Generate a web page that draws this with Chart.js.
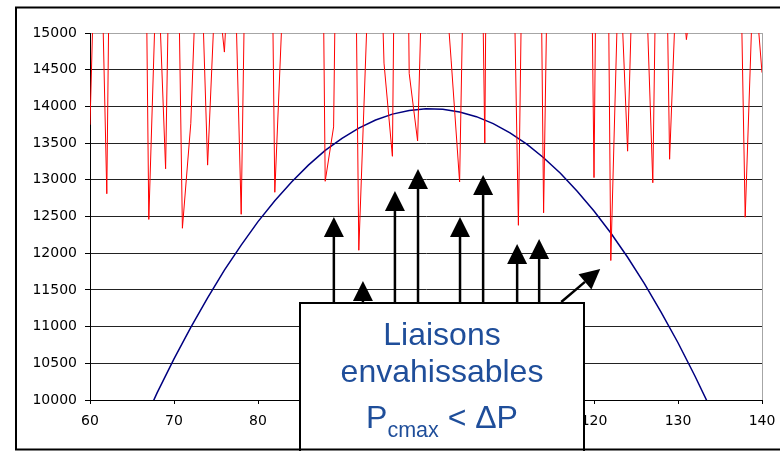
<!DOCTYPE html>
<html>
<head>
<meta charset="utf-8">
<script src="https://cdn.jsdelivr.net/npm/chart.js@4/dist/chart.umd.min.js"></script>
<style>
html,body{margin:0;padding:0;background:#fff;overflow:hidden}
canvas{display:block}
</style>
</head>
<body>
<canvas id="c" width="780" height="451"></canvas>
<script>
// ---- data ----
const redX = [60,61,62,63,64,65,66,67,68,69,70,71,72,73,74,75,76,77,78,79,80,81,82,83,84,85,86,87,88,89,90,91,92,93,94,95,96,97,98,99,100,101,102,103,104,105,106,107,108,109,110,111,112,113,114,115,116,117,118,119,120,121,122,123,124,125,126,127,128,129,130,131,132,133,134,135,136,137,138,139,140];
const redY = [13750,18000,12810,23500,20000,21500,23500,12460,16200,13150,20000,12340,13770,16900,13200,15850,14740,17000,12530,20000,19000,23000,12830,15600,19000,22000,20500,24800,12980,13720,22900,23000,12040,15250,18700,14590,13320,25000,14450,13530,17700,20000,16200,14620,12970,19300,21800,13500,28500,22000,18900,12380,20800,23700,12550,20000,21000,19500,22000,23400,13030,25000,11900,16200,13390,17500,16400,12960,21000,13280,16300,14910,15800,19000,21000,18500,20000,18900,12490,15900,14460];

const blueX = [66,68,70,72,74,76,78,80,82,84,86,88,90,92,94,96,98,100,102,104,106,108,110,112,114,116,118,120,122,124,126,128,130,132,134,136];
const blueY = [9600,10100,10560,10990,11390,11770,12110,12430,12715,12970,13200,13400,13565,13705,13815,13895,13945,13968,13962,13925,13860,13765,13640,13485,13300,13090,12845,12575,12275,11945,11585,11195,10780,10330,9855,9350];

const xTicks = [60,70,80,90,100,110,120,130,140];
const yTicks = [10000,10500,11000,11500,12000,12500,13000,13500,14000,14500,15000];

// annotation arrows (data coordinates)
const arrowX    = [89.03, 92.49, 96.30, 99.05, 104.05, 106.80, 110.85, 113.47];
const arrowTipY = [12493, 11621, 12847, 13147, 12493, 13065, 12125, 12193];
const arrowBaseY = 11330;
const diagArrowFrom = [116.10, 11335];
const diagArrowTo   = [120.74, 11785];

// annotation box (data coordinates for left/right/top)
const boxXRange = [84.86, 118.84];
const boxTopY = 11321;
const boxText1 = 'Liaisons';
const boxText2 = 'envahissables';
const boxText3 = ['P', 'cmax', ' < \u0394P'];

const tickFont = {family: 'DejaVu Sans', size: 14};

function drawArrow(ctx, x0, y0, x1, y1) {
  const ang = Math.atan2(y1 - y0, x1 - x0);
  const L = 20, W = 10;
  const bx = x1 - L * Math.cos(ang), by = y1 - L * Math.sin(ang);
  ctx.lineWidth = 2.5;
  ctx.beginPath(); ctx.moveTo(x0, y0); ctx.lineTo(bx, by); ctx.stroke();
  ctx.beginPath();
  ctx.moveTo(x1, y1);
  ctx.lineTo(bx + W * Math.sin(ang), by - W * Math.cos(ang));
  ctx.lineTo(bx - W * Math.sin(ang), by + W * Math.cos(ang));
  ctx.closePath(); ctx.fill();
}

const decor = {
  id: 'decor',
  beforeDraw(chart) {
    const ctx = chart.ctx;
    ctx.save(); ctx.fillStyle = '#fff'; ctx.fillRect(0, 0, chart.width, chart.height); ctx.restore();
  },
  beforeDatasetsDraw(chart) {
    const {ctx, chartArea: a} = chart;
    ctx.save();
    ctx.strokeStyle = '#a6a6a6'; ctx.lineWidth = 1;
    ctx.beginPath();
    ctx.moveTo(Math.round(a.right) + 0.5, a.top);
    ctx.lineTo(Math.round(a.right) + 0.5, a.bottom);
    ctx.stroke();
    ctx.restore();
  },
  afterDraw(chart) {
    const {ctx, scales: {x, y}} = chart;
    ctx.save();
    ctx.fillStyle = '#000'; ctx.strokeStyle = '#000';
    const baseP = y.getPixelForValue(arrowBaseY);
    for (let i = 0; i < arrowX.length; i++) {
      const px = x.getPixelForValue(arrowX[i]);
      drawArrow(ctx, px, baseP, px, y.getPixelForValue(arrowTipY[i]));
    }
    drawArrow(ctx, x.getPixelForValue(diagArrowFrom[0]), y.getPixelForValue(diagArrowFrom[1]),
                   x.getPixelForValue(diagArrowTo[0]), y.getPixelForValue(diagArrowTo[1]));

    // box
    const bl = Math.round(x.getPixelForValue(boxXRange[0])) + 1;
    const br = Math.round(x.getPixelForValue(boxXRange[1]));
    const bt = Math.round(y.getPixelForValue(boxTopY));
    ctx.fillStyle = '#fff';
    ctx.fillRect(bl, bt, br - bl, chart.height + 20 - bt);
    ctx.lineWidth = 2; ctx.strokeStyle = '#000';
    ctx.strokeRect(bl, bt, br - bl, chart.height + 20 - bt);

    const cx = (bl + br) / 2;
    ctx.fillStyle = '#1f4e9a';
    ctx.textAlign = 'center'; ctx.textBaseline = 'alphabetic';
    ctx.font = '32px "Liberation Sans"';
    ctx.fillText(boxText1, cx, bt + 42);
    ctx.fillText(boxText2, cx, bt + 79);
    // third line with subscript
    ctx.textAlign = 'left';
    const bigF = '32px "Liberation Sans"', subF = '21.5px "Liberation Sans"';
    ctx.font = bigF; const w1 = ctx.measureText(boxText3[0]).width;
    ctx.font = subF; const w2 = ctx.measureText(boxText3[1]).width;
    ctx.font = bigF; const w3 = ctx.measureText(boxText3[2]).width;
    let sx = cx - (w1 + w2 + w3) / 2;
    const by3 = bt + 125;
    ctx.font = bigF; ctx.fillText(boxText3[0], sx, by3); sx += w1;
    ctx.font = subF; ctx.fillText(boxText3[1], sx, by3 + 8.5); sx += w2;
    ctx.font = bigF; ctx.fillText(boxText3[2], sx, by3);

    // outer frame
    ctx.lineWidth = 2; ctx.strokeStyle = '#000';
    ctx.strokeRect(16, 7.5, 820, 442);
    ctx.restore();
  }
};

new Chart(document.getElementById('c'), {
  type: 'line',
  data: {
    datasets: [
      {
        data: redX.map((v, i) => ({x: v, y: redY[i]})),
        borderColor: 'rgb(255,0,0)', borderWidth: 1, pointRadius: 0, tension: 0, fill: false, order: 0
      },
      {
        data: blueX.map((v, i) => ({x: v, y: blueY[i]})),
        borderColor: '#000080', borderWidth: 1.5, pointRadius: 0, tension: 0, fill: false, order: 1
      }
    ]
  },
  options: {
    responsive: false,
    animation: false,
    devicePixelRatio: 1,
    layout: {padding: {top: 33, right: 18, left: 0, bottom: 0}},
    plugins: {legend: {display: false}, tooltip: {enabled: false}},
    scales: {
      x: {
        type: 'linear', min: 60, max: 140,
        afterBuildTicks: s => { s.ticks = xTicks.map(v => ({value: v})); },
        afterFit: s => { s.height = 51; s.paddingLeft = 0; s.paddingRight = 0; },
        grid: {display: true, drawOnChartArea: false, drawTicks: true, tickLength: 4, color: '#000', lineWidth: 1},
        border: {display: true, color: '#000', width: 1},
        ticks: {font: tickFont, color: '#000', padding: 9, maxRotation: 0, autoSkip: false, callback: v => String(v)}
      },
      y: {
        type: 'linear', min: 10000, max: 15000,
        afterBuildTicks: s => { s.ticks = yTicks.map(v => ({value: v})); },
        afterFit: s => { s.width = 90; s.paddingTop = 0; s.paddingBottom = 0; },
        grid: {
          color: c => (c.tick && c.tick.value === 15000) ? '#a6a6a6' : '#222',
          tickColor: '#000', tickLength: 5, lineWidth: 1
        },
        border: {display: true, color: '#000', width: 1},
        ticks: {font: tickFont, color: '#000', padding: 8, autoSkip: false, callback: v => String(v)}
      }
    }
  },
  plugins: [decor]
});
</script>
</body>
</html>
